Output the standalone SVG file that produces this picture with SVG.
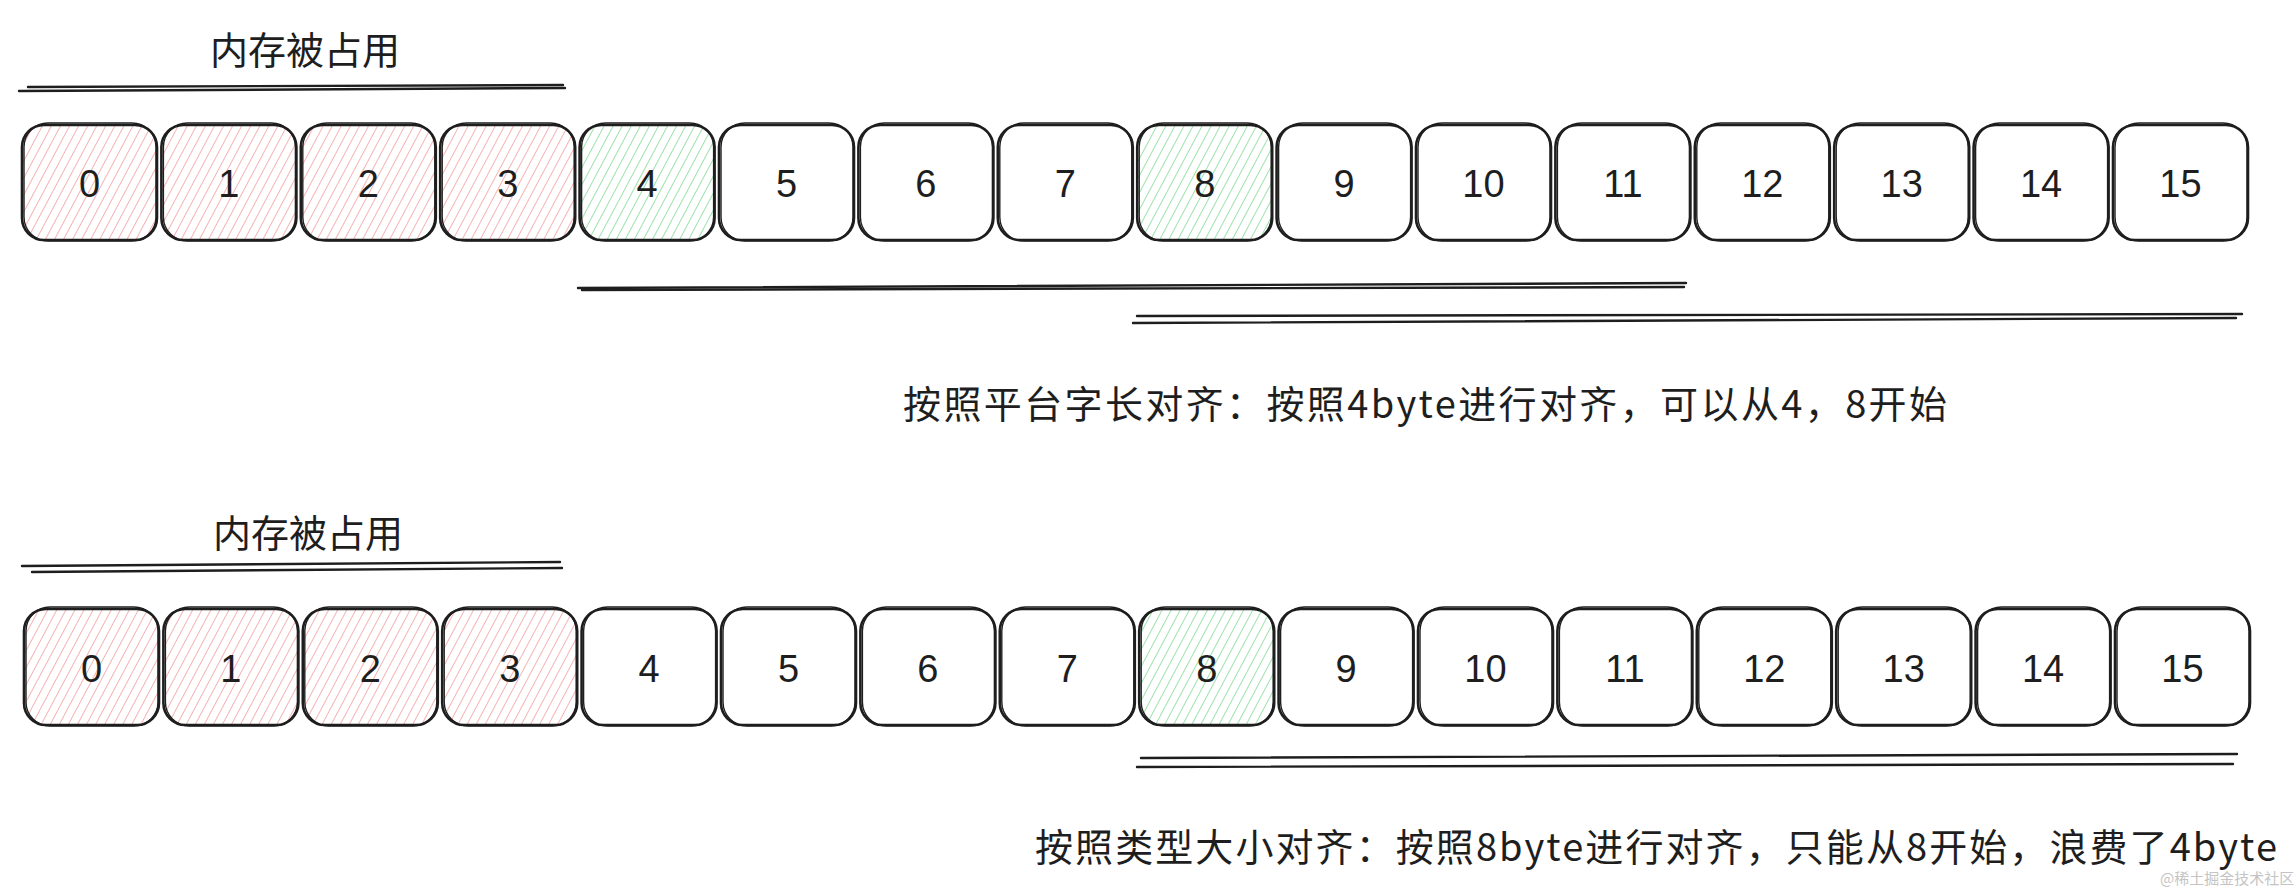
<svg xmlns="http://www.w3.org/2000/svg" width="2296" height="887" viewBox="0 0 2296 887">
<defs>
<pattern id="hred" width="8" height="8" patternUnits="userSpaceOnUse" patternTransform="rotate(28)">
<line x1="0" y1="0" x2="0" y2="8" stroke="#f29a9a" stroke-width="1.5"/>
</pattern>
<pattern id="hgreen" width="8" height="8" patternUnits="userSpaceOnUse" patternTransform="rotate(28)">
<line x1="0" y1="0" x2="0" y2="8" stroke="#7ad88f" stroke-width="1.5"/>
</pattern>
<style>
.b{fill:#fff;stroke:#1e1e1e;stroke-width:2.6}
.b2{fill:none;stroke:#1e1e1e;stroke-width:1.4}
.r{fill:url(#hred)}
.g{fill:url(#hgreen)}
.n{font-family:"Liberation Sans","Noto Sans CJK SC",sans-serif;font-size:38px;fill:#1e1e1e;text-anchor:middle;dominant-baseline:central}
.t{font-family:"Noto Sans CJK SC","Liberation Sans",sans-serif;font-size:38px;fill:#1e1e1e;dominant-baseline:central}
.l{stroke:#1e1e1e;stroke-width:2.4;fill:none;stroke-linecap:round}
.wm{font-family:"Noto Sans CJK SC",sans-serif;font-size:15px;fill:#c4c4c4}
</style>
</defs>
<rect width="2296" height="887" fill="#fff"/>

<g id="label-top">
<text class="t" x="305" y="47" text-anchor="middle">内存被占用</text>
</g>
<g id="label-bottom">
<text class="t" x="308" y="530" text-anchor="middle">内存被占用</text>
</g>

<g id="connectors">
<path class="l" d="M19 91 L565 88"/><path class="l" d="M28 87 L563 85"/>
<path class="l" d="M578 288 L1686 283"/><path class="l" d="M582 290 L1684 287"/>
<path class="l" d="M1137 316 L2242 314"/><path class="l" d="M1133 323 L2236 318"/>
<path class="l" d="M22 566 L560 562"/><path class="l" d="M32 572 L562 568"/>
<path class="l" d="M1141 758 L2237 754"/><path class="l" d="M1137 767 L2233 764"/>
</g>

<g id="row1">
<g id="t0"><rect class="b r" x="22" y="125" width="135" height="115" rx="22"/><rect class="b2" x="24" y="123" width="132" height="118" rx="24"/><text class="n" x="89.5" y="184">0</text></g>
<g id="t1"><rect class="b r" x="161.4" y="125" width="135" height="115" rx="22"/><rect class="b2" x="163.4" y="123" width="132" height="118" rx="24"/><text class="n" x="228.9" y="184">1</text></g>
<g id="t2"><rect class="b r" x="300.8" y="125" width="135" height="115" rx="22"/><rect class="b2" x="302.8" y="123" width="132" height="118" rx="24"/><text class="n" x="368.3" y="184">2</text></g>
<g id="t3"><rect class="b r" x="440.2" y="125" width="135" height="115" rx="22"/><rect class="b2" x="442.2" y="123" width="132" height="118" rx="24"/><text class="n" x="507.7" y="184">3</text></g>
<g id="t4"><rect class="b g" x="579.6" y="125" width="135" height="115" rx="22"/><rect class="b2" x="581.6" y="123" width="132" height="118" rx="24"/><text class="n" x="647.1" y="184">4</text></g>
<g id="t5"><rect class="b" x="719" y="125" width="135" height="115" rx="22"/><rect class="b2" x="721" y="123" width="132" height="118" rx="24"/><text class="n" x="786.5" y="184">5</text></g>
<g id="t6"><rect class="b" x="858.4" y="125" width="135" height="115" rx="22"/><rect class="b2" x="860.4" y="123" width="132" height="118" rx="24"/><text class="n" x="925.9" y="184">6</text></g>
<g id="t7"><rect class="b" x="997.8" y="125" width="135" height="115" rx="22"/><rect class="b2" x="999.8" y="123" width="132" height="118" rx="24"/><text class="n" x="1065.3" y="184">7</text></g>
<g id="t8"><rect class="b g" x="1137.2" y="125" width="135" height="115" rx="22"/><rect class="b2" x="1139.2" y="123" width="132" height="118" rx="24"/><text class="n" x="1204.7" y="184">8</text></g>
<g id="t9"><rect class="b" x="1276.6" y="125" width="135" height="115" rx="22"/><rect class="b2" x="1278.6" y="123" width="132" height="118" rx="24"/><text class="n" x="1344.1" y="184">9</text></g>
<g id="t10"><rect class="b" x="1416" y="125" width="135" height="115" rx="22"/><rect class="b2" x="1418" y="123" width="132" height="118" rx="24"/><text class="n" x="1483.5" y="184">10</text></g>
<g id="t11"><rect class="b" x="1555.4" y="125" width="135" height="115" rx="22"/><rect class="b2" x="1557.4" y="123" width="132" height="118" rx="24"/><text class="n" x="1622.9" y="184">11</text></g>
<g id="t12"><rect class="b" x="1694.8" y="125" width="135" height="115" rx="22"/><rect class="b2" x="1696.8" y="123" width="132" height="118" rx="24"/><text class="n" x="1762.3" y="184">12</text></g>
<g id="t13"><rect class="b" x="1834.2" y="125" width="135" height="115" rx="22"/><rect class="b2" x="1836.2" y="123" width="132" height="118" rx="24"/><text class="n" x="1901.7" y="184">13</text></g>
<g id="t14"><rect class="b" x="1973.6" y="125" width="135" height="115" rx="22"/><rect class="b2" x="1975.6" y="123" width="132" height="118" rx="24"/><text class="n" x="2041.1" y="184">14</text></g>
<g id="t15"><rect class="b" x="2113" y="125" width="135" height="115" rx="22"/><rect class="b2" x="2115" y="123" width="132" height="118" rx="24"/><text class="n" x="2180.5" y="184">15</text></g>
</g>

<g id="row2">
<g id="b0"><rect class="b r" x="24" y="609" width="135" height="116" rx="22"/><rect class="b2" x="26" y="607" width="132" height="119" rx="24"/><text class="n" x="91.5" y="669">0</text></g>
<g id="b1"><rect class="b r" x="163.4" y="609" width="135" height="116" rx="22"/><rect class="b2" x="165.4" y="607" width="132" height="119" rx="24"/><text class="n" x="230.9" y="669">1</text></g>
<g id="b2"><rect class="b r" x="302.8" y="609" width="135" height="116" rx="22"/><rect class="b2" x="304.8" y="607" width="132" height="119" rx="24"/><text class="n" x="370.3" y="669">2</text></g>
<g id="b3"><rect class="b r" x="442.2" y="609" width="135" height="116" rx="22"/><rect class="b2" x="444.2" y="607" width="132" height="119" rx="24"/><text class="n" x="509.7" y="669">3</text></g>
<g id="b4"><rect class="b" x="581.6" y="609" width="135" height="116" rx="22"/><rect class="b2" x="583.6" y="607" width="132" height="119" rx="24"/><text class="n" x="649.1" y="669">4</text></g>
<g id="b5"><rect class="b" x="721" y="609" width="135" height="116" rx="22"/><rect class="b2" x="723" y="607" width="132" height="119" rx="24"/><text class="n" x="788.5" y="669">5</text></g>
<g id="b6"><rect class="b" x="860.4" y="609" width="135" height="116" rx="22"/><rect class="b2" x="862.4" y="607" width="132" height="119" rx="24"/><text class="n" x="927.9" y="669">6</text></g>
<g id="b7"><rect class="b" x="999.8" y="609" width="135" height="116" rx="22"/><rect class="b2" x="1001.8" y="607" width="132" height="119" rx="24"/><text class="n" x="1067.3" y="669">7</text></g>
<g id="b8"><rect class="b g" x="1139.2" y="609" width="135" height="116" rx="22"/><rect class="b2" x="1141.2" y="607" width="132" height="119" rx="24"/><text class="n" x="1206.7" y="669">8</text></g>
<g id="b9"><rect class="b" x="1278.6" y="609" width="135" height="116" rx="22"/><rect class="b2" x="1280.6" y="607" width="132" height="119" rx="24"/><text class="n" x="1346.1" y="669">9</text></g>
<g id="b10"><rect class="b" x="1418" y="609" width="135" height="116" rx="22"/><rect class="b2" x="1420" y="607" width="132" height="119" rx="24"/><text class="n" x="1485.5" y="669">10</text></g>
<g id="b11"><rect class="b" x="1557.4" y="609" width="135" height="116" rx="22"/><rect class="b2" x="1559.4" y="607" width="132" height="119" rx="24"/><text class="n" x="1624.9" y="669">11</text></g>
<g id="b12"><rect class="b" x="1696.8" y="609" width="135" height="116" rx="22"/><rect class="b2" x="1698.8" y="607" width="132" height="119" rx="24"/><text class="n" x="1764.3" y="669">12</text></g>
<g id="b13"><rect class="b" x="1836.2" y="609" width="135" height="116" rx="22"/><rect class="b2" x="1838.2" y="607" width="132" height="119" rx="24"/><text class="n" x="1903.7" y="669">13</text></g>
<g id="b14"><rect class="b" x="1975.6" y="609" width="135" height="116" rx="22"/><rect class="b2" x="1977.6" y="607" width="132" height="119" rx="24"/><text class="n" x="2043.1" y="669">14</text></g>
<g id="b15"><rect class="b" x="2115" y="609" width="135" height="116" rx="22"/><rect class="b2" x="2117" y="607" width="132" height="119" rx="24"/><text class="n" x="2182.5" y="669">15</text></g>
</g>

<g id="caption-top">
<text class="t" x="903" y="401" textLength="1044" lengthAdjust="spacing">按照平台字长对齐：按照4byte进行对齐，可以从4，8开始</text>
</g>
<g id="caption-bottom">
<text class="t" x="1035" y="844" textLength="1242" lengthAdjust="spacing">按照类型大小对齐：按照8byte进行对齐，只能从8开始，浪费了4byte</text>
</g>
<g id="watermark">
<text class="wm" x="2160" y="884">@稀土掘金技术社区</text>
</g>
</svg>
